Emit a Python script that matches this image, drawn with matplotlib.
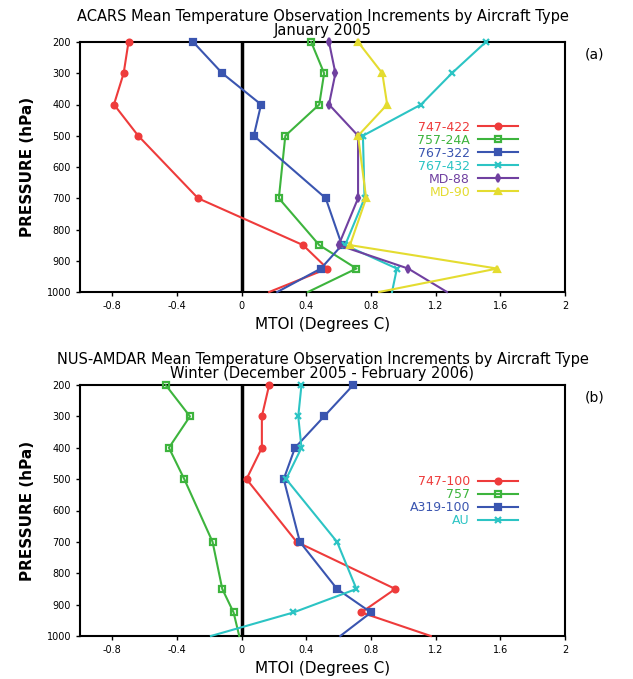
import matplotlib
matplotlib.use('Agg')
import matplotlib.pyplot as plt

pressure = [200, 300, 400, 500, 700, 850, 925, 1000]

# panel (a) ACARS, January 2005
acars_names = ['747-422', '757-24A', '767-322', '767-432', 'MD-88', 'MD-90']
b747_422 = [-0.70, -0.73, -0.79, -0.64, -0.27, 0.38, 0.53, 0.17]
b757_24a = [0.43, 0.51, 0.48, 0.27, 0.23, 0.48, 0.71, 0.41]
b767_322 = [-0.30, -0.12, 0.12, 0.075, 0.52, 0.62, 0.49, 0.22]
b767_432 = [1.51, 1.30, 1.11, 0.75, 0.76, 0.64, 0.96, 0.93]
md88 = [0.54, 0.58, 0.54, 0.72, 0.72, 0.60, 1.03, 1.27]
md90 = [0.72, 0.87, 0.90, 0.72, 0.77, 0.67, 1.58, 0.85]

# panel (b) NUS-AMDAR, winter 2005/06
amdar_names = ['747-100', '757', 'A319-100', 'AU']
b747_100 = [0.17, 0.125, 0.125, 0.03, 0.34, 0.95, 0.74, 1.17]
b757 = [-0.47, -0.32, -0.45, -0.355, -0.18, -0.12, -0.05, -0.015]
a319_100 = [0.69, 0.51, 0.33, 0.26, 0.36, 0.59, 0.80, 0.61]
au = [0.37, 0.35, 0.37, 0.275, 0.59, 0.71, 0.32, -0.19]

xticks = [-0.8, -0.4, 0, 0.4, 0.8, 1.2, 1.6, 2]
xticklabels = ['-0.8', '-0.4', '0', '0.4', '0.8', '1.2', '1.6', '2']
yticks = [200, 300, 400, 500, 600, 700, 800, 900, 1000]

red = '#ee3b3b'
green = '#3db43d'
blue = '#3a55b0'
cyan = '#2cc4c4'
purple = '#7040a0'
yellow = '#e4dc30'

fig = plt.figure(figsize=(6.33, 6.79), dpi=100)
W, H = 633, 679


def make_axes(top, bottom):
    return fig.add_axes([80 / W, 1 - bottom / H, 485 / W, (bottom - top) / H])


def style(ax, title, tag):
    ax.set_xlim(-1, 2)
    ax.set_ylim(1000, 200)
    ax.set_xticks(xticks)
    ax.set_xticklabels(xticklabels)
    ax.set_yticks(yticks)
    ax.tick_params(labelsize=7, length=3, width=1)
    ax.axvline(0, color='black', lw=2.5, zorder=1)
    for s in ax.spines.values():
        s.set_linewidth(1.5)
    ax.set_xlabel('MTOI (Degrees C)', fontsize=11, labelpad=4)
    ax.set_ylabel('PRESSURE (hPa)', fontsize=11, fontweight='bold', labelpad=8)
    ax.set_title(title, fontsize=10.5, linespacing=0.9, pad=5)
    ax.text(1.04, 0.95, tag, transform=ax.transAxes, fontsize=10, ha='left', va='center')


def draw(ax, series, names):
    # the 1000 hPa points sit on the frame and show no marker
    for (vals, c, m, fs), name in zip(series, names):
        ax.plot(vals, pressure, color=c, lw=1.5, marker=m, ms=4.2, mew=1.6,
                fillstyle=fs, label=name, markevery=slice(0, 7), clip_on=False, zorder=3)


ax1 = make_axes(42, 292)
series_a = [
    (b747_422, red, 'o', 'full'),
    (b757_24a, green, 's', 'none'),
    (b767_322, blue, 's', 'full'),
    (b767_432, cyan, 'x', 'full'),
    (md88, purple, 'd', 'full'),
    (md90, yellow, '^', 'full'),
]
draw(ax1, series_a, acars_names)
style(ax1, 'ACARS Mean Temperature Observation Increments by Aircraft Type\nJanuary 2005', '(a)')
ax1.legend(loc='upper right', bbox_to_anchor=(0.915, 0.71), frameon=False, markerfirst=False,
           labelcolor='linecolor', fontsize=9, labelspacing=0.0, handlelength=3.2,
           handletextpad=0.6, borderpad=0)

ax2 = make_axes(385, 636)
series_b = [
    (b747_100, red, 'o', 'full'),
    (b757, green, 's', 'none'),
    (a319_100, blue, 's', 'full'),
    (au, cyan, 'x', 'full'),
]
draw(ax2, series_b, amdar_names)
style(ax2, 'NUS-AMDAR Mean Temperature Observation Increments by Aircraft Type\nWinter (December 2005 - February 2006)', '(b)')
ax2.legend(loc='upper right', bbox_to_anchor=(0.915, 0.665), frameon=False, markerfirst=False,
           labelcolor='linecolor', fontsize=9, labelspacing=0.0, handlelength=3.2,
           handletextpad=0.6, borderpad=0)

fig.savefig('out.png', dpi=100)
